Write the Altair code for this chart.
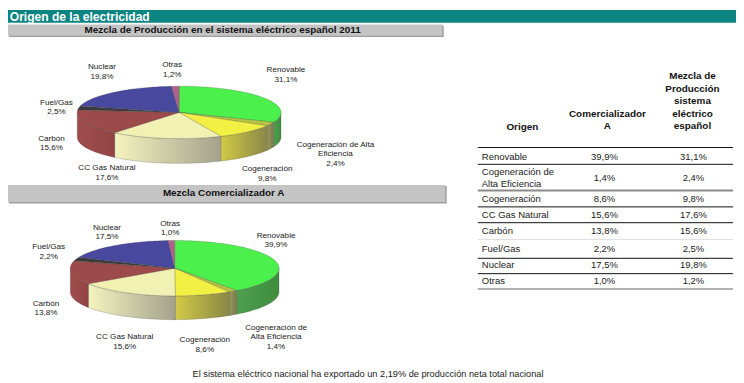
import math
import numpy as np
import pandas as pd
import altair as alt

# ---------------- data ----------------
categories = ["Renovable", "Cogeneración de Alta Eficiencia", "Cogeneración", "CC Gas Natural",
              "Carbón", "Fuel/Gas", "Nuclear", "Otras"]
mix_sistema_2011 = [31.1, 2.4, 9.8, 17.6, 15.6, 2.5, 19.8, 1.2]
mix_comercializador_a = [39.9, 1.4, 8.6, 15.6, 13.8, 2.2, 17.5, 1.0]

pie1_label_names = ["Renovable", "Cogeneración de Alta\nEficiencia", "Cogeneración", "CC Gas Natural",
                    "Carbón", "Fuel/Gas", "Nuclear", "Otras"]
pie2_label_names = ["Renovable", "Cogeneración de\nAlta Eficiencia", "Cogeneración", "CC Gas Natural",
                    "Carbón", "Fuel/Gas", "Nuclear", "Otras"]
table_row_names = ["Renovable", "Cogeneración de\nAlta Eficiencia", "Cogeneración", "CC Gas Natural",
                   "Carbón", "Fuel/Gas", "Nuclear", "Otras"]
table_header_origen = ["Origen"]
table_header_com = ["Comercializador", "A"]
table_header_mix = ["Mezcla de", "Producción", "sistema", "eléctrico", "español"]
banner_title = "Origen de la electricidad"
pie1_title = "Mezcla de Producción en el sistema eléctrico español 2011"
pie2_title = "Mezcla Comercializador A"
footer_note = "El sistema eléctrico nacional ha exportado un 2,19% de producción neta total nacional"


def pct(v):
    return f"{v:.1f}".replace(".", ",") + "%"


# ---------------- layout & style ----------------
W, H = 736, 375
# piecewise mapping of the reference layout into the drawing area
XDOM, XRANGE = [3, 50, 744], [0, 42, 736]
YDOM, YRANGE = [3, 40, 383], [0, 32, 375]
FONT = "Liberation Sans"
TEXT_COLOR = "#1a1a1a"

TOP_COLORS = ["#4CF04C", "#B6C43E", "#F2F042", "#F2F1B4", "#9C4A4A", "#3C3C3C", "#48489E", "#B0608C"]
WALL_GRADIENTS = [("#4FA04F", "#3F8C3F"), ("#9A9A5A", "#7A7A4E"), ("#D2CA46", "#8A8846"),
                  ("#F4F3BE", "#A4A28C"), ("#A04C4C", "#924444"), ("#444444", "#333333"),
                  ("#40408A", "#383878"), ("#9A5078", "#8A4A6A")]

PIES = [
    dict(values=mix_sistema_2011, names=pie1_label_names, cx=181, cy=111.5, rx=103, ry=26.5, depth=25,
         label_pos=[(289, 69), (339, 144), (270, 169), (108, 168), (52, 138), (57, 102), (103, 66), (174, 64)],
         line_h=9.6),
    dict(values=mix_comercializador_a, names=pie2_label_names, cx=176.5, cy=269, rx=105.5, ry=28, depth=24,
         label_pos=[(279, 236), (279, 329), (207, 342), (126, 339), (46, 305), (49, 248), (108, 228), (172, 224)],
         line_h=9.7),
]

BANDS = pd.DataFrame([
    dict(x=4, x2=448.5, y=21, y2=34.5, c="#9E9E9E"),
    dict(x=4, x2=451.5, y=186, y2=203.5, c="#9E9E9E"),
    dict(x=3, x2=744, y=3, y2=18, c="#0B8482"),
    dict(x=3, x2=447, y=20, y2=33, c="#C4C4C4"),
    dict(x=3, x2=450, y=185, y2=202, c="#C4C4C4"),
])
BANDS["o"] = range(len(BANDS))

TABLE_X = (483, 741)
LABEL_X, COL1_X, COL2_X = 487, 611, 701
ROW_Y = [157, 178, 199, 215, 231, 250, 266, 282]
TABLE_LINES = pd.DataFrame([
    dict(y=147, c="#111111", w=1.0), dict(y=164, c="#111111", w=1.0), dict(y=190.5, c="#8a8a8a", w=2.0),
    dict(y=207, c="#111111", w=1.0), dict(y=223, c="#111111", w=1.0), dict(y=240, c="#c8c8c8", w=0.6),
    dict(y=259, c="#111111", w=1.0), dict(y=274.5, c="#111111", w=1.0), dict(y=290, c="#666666", w=1.2),
])
TABLE_LINES["x"], TABLE_LINES["x2"] = TABLE_X

xs = alt.Scale(domain=XDOM, range=XRANGE, nice=False, zero=False)
ys = alt.Scale(domain=YDOM, range=YRANGE, nice=False, zero=False)


def X(f="px"):
    return alt.X(f, type="quantitative", scale=xs, axis=None)


def Y(f="py"):
    return alt.Y(f, type="quantitative", scale=ys, axis=None)


# ---------------- pie geometry from the values ----------------
def ell(p, theta, dy=0.0):
    t = math.radians(theta)
    return p["cx"] + p["rx"] * math.sin(t), p["cy"] - p["ry"] * math.cos(t) + dy


top_rows, wall_rows, label_rows = [], [], []
for pi, p in enumerate(PIES):
    vals = np.array(p["values"], dtype=float)
    ends = np.cumsum(vals) / vals.sum() * 360.0
    starts = ends - vals / vals.sum() * 360.0
    for k, (a0, a1) in enumerate(zip(starts, ends)):
        key = f"p{pi}s{k}"
        n = max(3, int(math.ceil((a1 - a0) / 1.5)) + 1)
        th = np.linspace(a0, a1, n)
        pts = [(p["cx"], p["cy"])] + [ell(p, t) for t in th] + [(p["cx"], p["cy"])]
        for i, (x, y) in enumerate(pts):
            top_rows.append(dict(key=key, cat=categories[k], i=i, px=x, py=y))
        lo, hi = max(a0, 90.0), min(a1, 270.0)
        if hi > lo:
            n = max(3, int(math.ceil((hi - lo) / 1.5)) + 1)
            th = np.linspace(lo, hi, n)
            pts = [ell(p, t) for t in th] + [ell(p, t, p["depth"]) for t in th[::-1]]
            pts.append(pts[0])
            for i, (x, y) in enumerate(pts):
                wall_rows.append(dict(key=key, k=k, i=i, px=x, py=y))
        lines = p["names"][k].split("\n") + [pct(p["values"][k])]
        lx, ly = p["label_pos"][k]
        for j, line in enumerate(lines):
            label_rows.append(dict(px=lx, py=ly + j * p["line_h"], text=line))

top_df = pd.DataFrame(top_rows)
wall_df = pd.DataFrame(wall_rows)
label_df = pd.DataFrame(label_rows)

layers = []

layers.append(
    alt.Chart(BANDS).mark_rect().encode(
        x=X("x"), x2="x2", y=Y("y"), y2="y2", color=alt.Color("c:N", scale=None),
        order=alt.Order("o:Q")
    )
)

for key in wall_df["key"].unique():
    sub = wall_df[wall_df["key"] == key]
    k = int(sub["k"].iloc[0])
    c0, c1 = WALL_GRADIENTS[k]
    grad = alt.Gradient(gradient="linear", x1=0, y1=0, x2=1, y2=0,
                        stops=[alt.GradientStop(color=c0, offset=0), alt.GradientStop(color=c1, offset=1)])
    layers.append(
        alt.Chart(sub[["i", "px", "py"]]).mark_line(
            filled=True, fill=grad, stroke="#3a3a3a", strokeWidth=0.4, strokeOpacity=0.6
        ).encode(x=X(), y=Y(), order=alt.Order("i:Q"))
    )

layers.append(
    alt.Chart(top_df).mark_line(filled=True, stroke="#3a3a3a", strokeWidth=0.4, strokeOpacity=0.6).encode(
        x=X(), y=Y(),
        color=alt.Color("cat:N", scale=alt.Scale(domain=categories, range=TOP_COLORS), legend=None),
        detail="key:N",
        order=alt.Order("i:Q"),
    )
)

layers.append(
    alt.Chart(label_df).mark_text(font=FONT, fontSize=8.2, align="center", baseline="middle",
                                  color=TEXT_COLOR).encode(x=X(), y=Y(), text="text:N")
)

layers.append(
    alt.Chart(pd.DataFrame([dict(px=5, py=10.8, text=banner_title)])).mark_text(
        font=FONT, fontSize=12.2, fontWeight="bold", align="left", baseline="middle", color="white"
    ).encode(x=X(), y=Y(), text="text:N")
)
layers.append(
    alt.Chart(pd.DataFrame([dict(px=225, py=26.8, text=pie1_title), dict(px=226, py=193.5, text=pie2_title)])).mark_text(
        font=FONT, fontSize=10, fontWeight="bold", align="center", baseline="middle", color="#111111"
    ).encode(x=X(), y=Y(), text="text:N")
)

hdr_rows = [dict(px=528, py=126, text=table_header_origen[0])]
hdr_rows += [dict(px=614, py=113 + 12 * j, text=t) for j, t in enumerate(table_header_com)]
hdr_rows += [dict(px=700, py=75 + 12.6 * j, text=t) for j, t in enumerate(table_header_mix)]
layers.append(
    alt.Chart(pd.DataFrame(hdr_rows)).mark_text(
        font=FONT, fontSize=10, fontWeight="bold", align="center", baseline="middle", color="#111111"
    ).encode(x=X(), y=Y(), text="text:N")
)

name_rows, val_rows = [], []
for r, name in enumerate(table_row_names):
    parts = name.split("\n")
    off = (len(parts) - 1) * 11.5 / 2
    for j, part in enumerate(parts):
        name_rows.append(dict(px=LABEL_X, py=ROW_Y[r] - off + j * 11.5, text=part))
    val_rows.append(dict(px=COL1_X, py=ROW_Y[r], text=pct(mix_comercializador_a[r])))
    val_rows.append(dict(px=COL2_X, py=ROW_Y[r], text=pct(mix_sistema_2011[r])))
layers.append(
    alt.Chart(pd.DataFrame(name_rows)).mark_text(
        font=FONT, fontSize=9.6, align="left", baseline="middle", color=TEXT_COLOR
    ).encode(x=X(), y=Y(), text="text:N")
)
layers.append(
    alt.Chart(pd.DataFrame(val_rows)).mark_text(
        font=FONT, fontSize=9.6, align="center", baseline="middle", color=TEXT_COLOR
    ).encode(x=X(), y=Y(), text="text:N")
)
layers.append(
    alt.Chart(TABLE_LINES).mark_rule().encode(
        x=X("x"), x2="x2", y=Y("y"),
        color=alt.Color("c:N", scale=None), size=alt.Size("w:Q", scale=None)
    )
)

layers.append(
    alt.Chart(pd.DataFrame([dict(px=372, py=376, text=footer_note)])).mark_text(
        font=FONT, fontSize=9.3, align="center", baseline="middle", color=TEXT_COLOR
    ).encode(x=X(), y=Y(), text="text:N")
)

chart = alt.layer(*layers).properties(
    width=W, height=H, padding=0, autosize=alt.AutoSizeParams(type="none"), background="white"
).configure_view(stroke=None)

chart.save("out.html", embed_options={"renderer": "svg", "actions": False})
